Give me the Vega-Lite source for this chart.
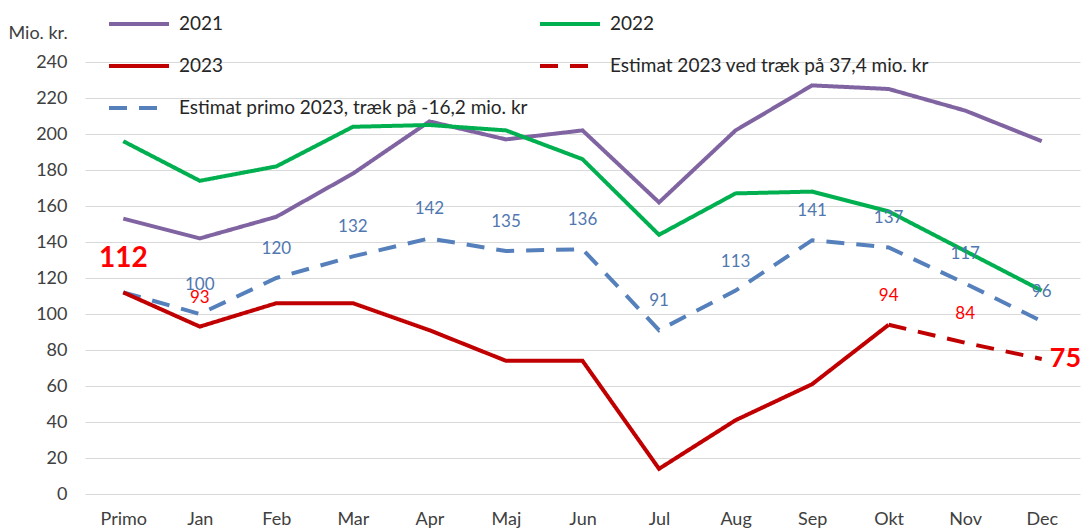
{
  "$schema": "https://vega.github.io/schema/vega-lite/v6.json",
  "width": 995,
  "height": 432,
  "autosize": {"type": "none"},
  "padding": {"left": 85, "top": 62, "right": 4, "bottom": 37},
  "background": "white",
  "config": {
    "font": "Lato",
    "view": {"stroke": null},
    "axis": {"labelFont": "Lato", "titleFont": "Lato"}
  },
  "data": {
    "values": [
      {"month": "Primo", "value": 153, "series": "2021"},
      {"month": "Jan", "value": 142, "series": "2021"},
      {"month": "Feb", "value": 154, "series": "2021"},
      {"month": "Mar", "value": 178, "series": "2021"},
      {"month": "Apr", "value": 207, "series": "2021"},
      {"month": "Maj", "value": 197, "series": "2021"},
      {"month": "Jun", "value": 202, "series": "2021"},
      {"month": "Jul", "value": 162, "series": "2021"},
      {"month": "Aug", "value": 202, "series": "2021"},
      {"month": "Sep", "value": 227, "series": "2021"},
      {"month": "Okt", "value": 225, "series": "2021"},
      {"month": "Nov", "value": 213, "series": "2021"},
      {"month": "Dec", "value": 196, "series": "2021"},
      {"month": "Primo", "value": 196, "series": "2022"},
      {"month": "Jan", "value": 174, "series": "2022"},
      {"month": "Feb", "value": 182, "series": "2022"},
      {"month": "Mar", "value": 204, "series": "2022"},
      {"month": "Apr", "value": 205, "series": "2022"},
      {"month": "Maj", "value": 202, "series": "2022"},
      {"month": "Jun", "value": 186, "series": "2022"},
      {"month": "Jul", "value": 144, "series": "2022"},
      {"month": "Aug", "value": 167, "series": "2022"},
      {"month": "Sep", "value": 168, "series": "2022"},
      {"month": "Okt", "value": 157, "series": "2022"},
      {"month": "Nov", "value": 135, "series": "2022"},
      {"month": "Dec", "value": 113, "series": "2022"},
      {"month": "Primo", "value": 112, "series": "Estimat primo 2023, træk på -16,2 mio. kr"},
      {"month": "Jan", "value": 100, "series": "Estimat primo 2023, træk på -16,2 mio. kr"},
      {"month": "Feb", "value": 120, "series": "Estimat primo 2023, træk på -16,2 mio. kr"},
      {"month": "Mar", "value": 132, "series": "Estimat primo 2023, træk på -16,2 mio. kr"},
      {"month": "Apr", "value": 142, "series": "Estimat primo 2023, træk på -16,2 mio. kr"},
      {"month": "Maj", "value": 135, "series": "Estimat primo 2023, træk på -16,2 mio. kr"},
      {"month": "Jun", "value": 136, "series": "Estimat primo 2023, træk på -16,2 mio. kr"},
      {"month": "Jul", "value": 91, "series": "Estimat primo 2023, træk på -16,2 mio. kr"},
      {"month": "Aug", "value": 113, "series": "Estimat primo 2023, træk på -16,2 mio. kr"},
      {"month": "Sep", "value": 141, "series": "Estimat primo 2023, træk på -16,2 mio. kr"},
      {"month": "Okt", "value": 137, "series": "Estimat primo 2023, træk på -16,2 mio. kr"},
      {"month": "Nov", "value": 117, "series": "Estimat primo 2023, træk på -16,2 mio. kr"},
      {"month": "Dec", "value": 96, "series": "Estimat primo 2023, træk på -16,2 mio. kr"},
      {"month": "Okt", "value": 94, "series": "Estimat 2023 ved træk på 37,4 mio. kr"},
      {"month": "Nov", "value": 84, "series": "Estimat 2023 ved træk på 37,4 mio. kr"},
      {"month": "Dec", "value": 75, "series": "Estimat 2023 ved træk på 37,4 mio. kr"},
      {"month": "Primo", "value": 112, "series": "2023"},
      {"month": "Jan", "value": 93, "series": "2023"},
      {"month": "Feb", "value": 106, "series": "2023"},
      {"month": "Mar", "value": 106, "series": "2023"},
      {"month": "Apr", "value": 91, "series": "2023"},
      {"month": "Maj", "value": 74, "series": "2023"},
      {"month": "Jun", "value": 74, "series": "2023"},
      {"month": "Jul", "value": 14, "series": "2023"},
      {"month": "Aug", "value": 41, "series": "2023"},
      {"month": "Sep", "value": 61, "series": "2023"},
      {"month": "Okt", "value": 94, "series": "2023"}
    ]
  },
  "encoding": {
    "x": {
      "field": "month",
      "type": "ordinal",
      "sort": ["Primo", "Jan", "Feb", "Mar", "Apr", "Maj", "Jun", "Jul", "Aug", "Sep", "Okt", "Nov", "Dec"],
      "scale": {"type": "point", "padding": 0.5},
      "axis": {
        "title": null,
        "labelAngle": 0,
        "ticks": false,
        "domain": false,
        "labelFontSize": 18,
        "labelColor": "#404040",
        "labelPadding": 16
      }
    },
    "y": {
      "field": "value",
      "type": "quantitative",
      "scale": {"domain": [0, 240], "nice": false},
      "axis": {
        "values": [0, 20, 40, 60, 80, 100, 120, 140, 160, 180, 200, 220, 240],
        "title": "Mio. kr.",
        "titleAngle": 0,
        "titleAlign": "left",
        "titleBaseline": "middle",
        "titleX": -77,
        "titleY": -29,
        "titleFontSize": 18,
        "titleFontWeight": "normal",
        "titleColor": "#404040",
        "ticks": false,
        "domain": false,
        "labelFontSize": 18,
        "labelColor": "#404040",
        "labelPadding": 18,
        "gridColor": "#d9d9d9",
        "gridWidth": 1
      }
    }
  },
  "layer": [
    {
      "mark": {"type": "line", "strokeWidth": 4, "strokeJoin": "miter"},
      "encoding": {
        "color": {
          "field": "series",
          "type": "nominal",
          "scale": {
            "domain": ["2021", "2023", "Estimat primo 2023, træk på -16,2 mio. kr", "2022", "Estimat 2023 ved træk på 37,4 mio. kr"],
            "range": ["#8064A2", "#C00000", "#5580BB", "#00B050", "#C00000"]
          },
          "legend": {
            "title": null,
            "orient": "none",
            "legendX": 22,
            "legendY": -70,
            "columns": 2,
            "columnPadding": 4,
            "rowPadding": -28,
            "padding": 0,
            "symbolType": "stroke",
            "symbolSize": 3600,
            "symbolStrokeWidth": 4,
            "labelFontSize": 19,
            "labelColor": "#262626",
            "labelOffset": 8,
            "labelLimit": 600
          }
        },
        "strokeDash": {
          "field": "series",
          "type": "nominal",
          "scale": {
            "domain": ["2021", "2023", "Estimat primo 2023, træk på -16,2 mio. kr", "2022", "Estimat 2023 ved træk på 37,4 mio. kr"],
            "range": [[1, 0], [1, 0], [18, 12], [1, 0], [18, 12]]
          },
          "legend": null
        }
      }
    },
    {
      "transform": [
        {"filter": "datum.series == 'Estimat primo 2023, træk på -16,2 mio. kr' && datum.month != 'Primo'"}
      ],
      "mark": {"type": "text", "dy": -29, "fontSize": 17, "color": "#5077B0", "baseline": "middle"},
      "encoding": {"text": {"field": "value", "type": "quantitative"}}
    },
    {
      "transform": [
        {"filter": "(datum.series == '2023' && (datum.month == 'Jan' || datum.month == 'Okt')) || (datum.series == 'Estimat 2023 ved træk på 37,4 mio. kr' && datum.month == 'Nov')"}
      ],
      "mark": {"type": "text", "dy": -29, "fontSize": 17, "color": "#FF0000", "baseline": "middle"},
      "encoding": {"text": {"field": "value", "type": "quantitative"}}
    },
    {
      "transform": [
        {"filter": "datum.series == '2023' && datum.month == 'Primo'"}
      ],
      "mark": {"type": "text", "dy": -33, "fontSize": 28, "fontWeight": "bold", "color": "#FF0000", "baseline": "middle"},
      "encoding": {"text": {"field": "value", "type": "quantitative"}}
    },
    {
      "transform": [
        {"filter": "datum.series == 'Estimat 2023 ved træk på 37,4 mio. kr' && datum.month == 'Dec'"}
      ],
      "mark": {"type": "text", "dx": 8, "fontSize": 27, "fontWeight": "bold", "color": "#FF0000", "baseline": "middle", "align": "left"},
      "encoding": {"text": {"field": "value", "type": "quantitative"}}
    }
  ]
}
